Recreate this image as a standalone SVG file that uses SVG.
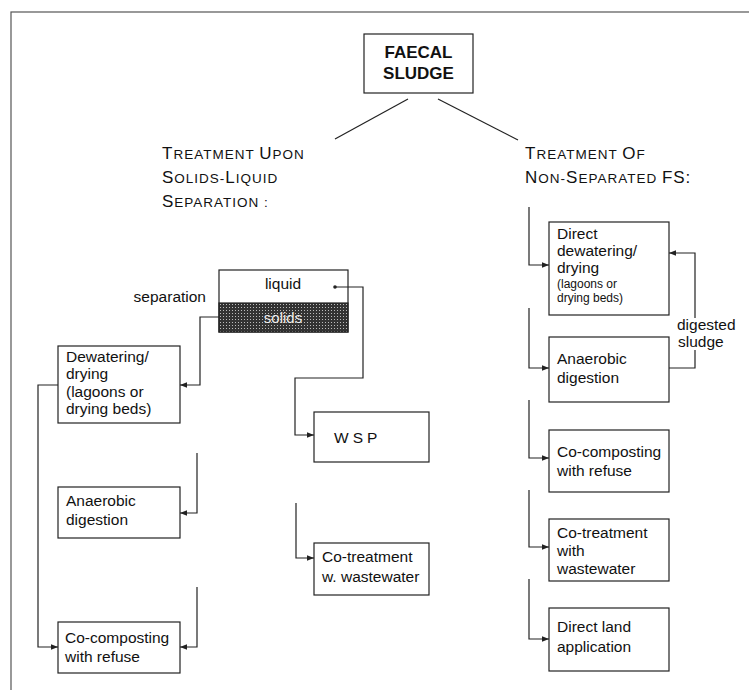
<svg xmlns="http://www.w3.org/2000/svg" width="749" height="690" viewBox="0 0 749 690">
<style>
.bx{fill:#fff;stroke:#222;stroke-width:1.2}
.t{font-family:"Liberation Sans",Arial,sans-serif;font-size:15.5px;fill:#111}
.ts{font-family:"Liberation Sans",Arial,sans-serif;font-size:12px;fill:#111}
.hd{font-family:"Liberation Sans",Arial,sans-serif;font-size:13.5px;fill:#111;letter-spacing:1px}
.hd .b{font-size:17px}
.ln{fill:none;stroke:#222;stroke-width:1.2}
.cn{fill:none;stroke:#222;stroke-width:1.2}
</style>
<defs>
<marker id="ah" viewBox="0 0 10 10" refX="10" refY="5" markerWidth="7" markerHeight="7" markerUnits="userSpaceOnUse" orient="auto">
<path d="M0,1 L10,5 L0,9 z" fill="#222"/>
</marker>
<pattern id="hatch" width="3" height="3" patternUnits="userSpaceOnUse">
<rect width="3" height="3" fill="#333"/>
<rect x="1" y="1" width="1" height="1" fill="#bbb"/>
</pattern>
</defs>
<rect x="11" y="12" width="770" height="700" fill="none" stroke="#555" stroke-width="1.2"/>

<g id="faecal-sludge">
<rect class="bx" x="364" y="34" width="109" height="59"/>
<text x="418.5" y="58" text-anchor="middle" font-family="Liberation Sans,Arial,sans-serif" font-size="17" font-weight="bold" fill="#111">FAECAL</text>
<text x="418.5" y="79" text-anchor="middle" font-family="Liberation Sans,Arial,sans-serif" font-size="17" font-weight="bold" fill="#111">SLUDGE</text>
</g>

<g id="header-left">
<text class="hd" x="162" y="159"><tspan class="b">T</tspan>REATMENT <tspan class="b">U</tspan>PON</text>
<text class="hd" x="162" y="183"><tspan class="b">S</tspan>OLIDS-<tspan class="b">L</tspan>IQUID</text>
<text class="hd" x="162" y="207"><tspan class="b">S</tspan>EPARATION :</text>
</g>
<g id="header-right">
<text class="hd" x="525" y="159"><tspan class="b">T</tspan>REATMENT <tspan class="b">O</tspan>F</text>
<text class="hd" x="525" y="183"><tspan class="b">N</tspan>ON-<tspan class="b">S</tspan>EPARATED <tspan class="b">FS:</tspan></text>
</g>

<g id="separation">
<text class="t" x="206" y="302" text-anchor="end">separation</text>
<rect class="bx" x="219" y="270" width="129" height="62"/>
<rect x="219" y="303" width="129" height="29" fill="url(#hatch)" stroke="#222" stroke-width="1.2"/>
<text class="t" x="283" y="289" text-anchor="middle">liquid</text>
<text x="283" y="323" text-anchor="middle" font-family="Liberation Sans,Arial,sans-serif" font-size="15" fill="#eee">solids</text>
<circle cx="335" cy="287" r="1.8" fill="#222"/>
</g>

<g id="dewatering-left">
<rect class="bx" x="58" y="346" width="122" height="77"/>
<text class="t" x="66" y="362">Dewatering/</text>
<text class="t" x="66" y="379">drying</text>
<text class="t" x="66" y="397">(lagoons or</text>
<text class="t" x="66" y="414">drying beds)</text>
</g>
<g id="anaerobic-left">
<rect class="bx" x="58" y="487" width="122" height="51"/>
<text class="t" x="66" y="506">Anaerobic</text>
<text class="t" x="66" y="525">digestion</text>
</g>
<g id="cocomposting-left">
<rect class="bx" x="58" y="622" width="122" height="51"/>
<text class="t" x="65" y="643">Co-composting</text>
<text class="t" x="65" y="662">with refuse</text>
</g>
<g id="wsp">
<rect class="bx" x="314" y="412" width="115" height="50"/>
<text class="t" x="334" y="443" letter-spacing="4">WSP</text>
</g>
<g id="cotreatment-left">
<rect class="bx" x="314" y="543" width="115" height="52"/>
<text class="t" x="322" y="562">Co-treatment</text>
<text class="t" x="322" y="582">w. wastewater</text>
</g>

<g id="direct-dewatering">
<rect class="bx" x="549" y="222" width="120" height="93"/>
<text class="t" x="557" y="239">Direct</text>
<text class="t" x="557" y="256">dewatering/</text>
<text class="t" x="557" y="273">drying</text>
<text class="ts" x="557" y="288">(lagoons or</text>
<text class="ts" x="557" y="302">drying beds)</text>
</g>
<g id="anaerobic-right">
<rect class="bx" x="549" y="337" width="120" height="65"/>
<text class="t" x="557" y="364">Anaerobic</text>
<text class="t" x="557" y="383">digestion</text>
</g>
<g id="cocomposting-right">
<rect class="bx" x="549" y="430" width="120" height="62"/>
<text class="t" x="557" y="457">Co-composting</text>
<text class="t" x="557" y="476">with refuse</text>
</g>
<g id="cotreatment-right">
<rect class="bx" x="549" y="519" width="120" height="62"/>
<text class="t" x="557" y="538">Co-treatment</text>
<text class="t" x="557" y="556">with</text>
<text class="t" x="557" y="574">wastewater</text>
</g>
<g id="land-application">
<rect class="bx" x="549" y="608" width="120" height="63"/>
<text class="t" x="557" y="632">Direct land</text>
<text class="t" x="557" y="652">application</text>
</g>
<g id="digested-sludge-label">
<text class="t" x="677" y="330">digested</text>
<text class="t" x="678" y="347">sludge</text>
</g>

<g id="connectors">
<line class="ln" x1="408" y1="99" x2="335" y2="139"/>
<line class="ln" x1="438" y1="99" x2="518" y2="140"/>
<polyline class="cn" points="219,317 200,317 200,385 180,385" marker-end="url(#ah)"/>
<polyline class="cn" points="58,385 38,385 38,647 58,647" marker-end="url(#ah)"/>
<polyline class="cn" points="197,453 197,513 180,513" marker-end="url(#ah)"/>
<polyline class="cn" points="197,587 197,647 180,647" marker-end="url(#ah)"/>
<polyline class="cn" points="335,287 363,287 363,378 295,378 295,435 314,435" marker-end="url(#ah)"/>
<polyline class="cn" points="296,503 296,558 314,558" marker-end="url(#ah)"/>
<polyline class="cn" points="529,207 529,265 549,265" marker-end="url(#ah)"/>
<polyline class="cn" points="529,308 529,368 549,368" marker-end="url(#ah)"/>
<polyline class="cn" points="529,400 529,458 549,458" marker-end="url(#ah)"/>
<polyline class="cn" points="529,490 529,547 549,547" marker-end="url(#ah)"/>
<polyline class="cn" points="529,579 529,639 549,639" marker-end="url(#ah)"/>
<polyline class="cn" points="669,368 695,368 695,350"/>
<polyline class="cn" points="695,318 695,253 669,253" marker-end="url(#ah)"/>
</g>
</svg>
